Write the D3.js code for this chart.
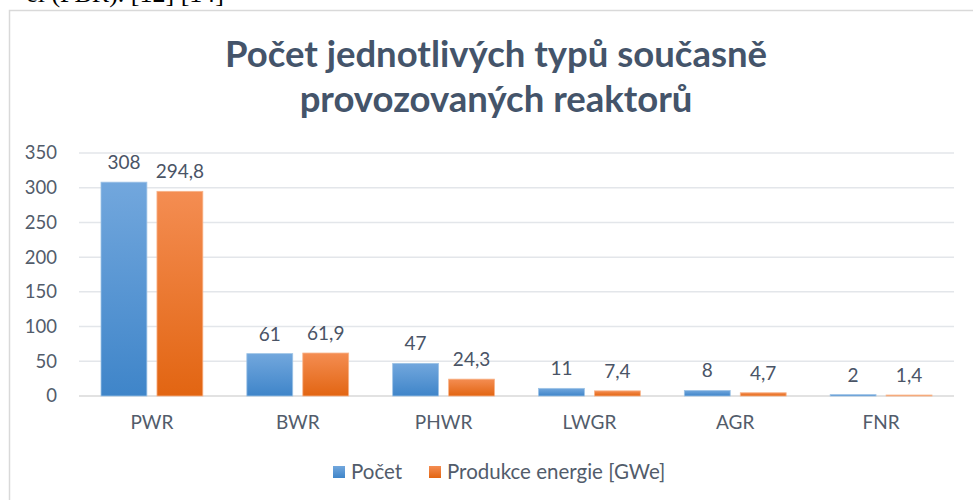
<!DOCTYPE html>
<html>
<head>
<meta charset="utf-8">
<script src="https://cdnjs.cloudflare.com/ajax/libs/d3/7.8.5/d3.min.js"></script>
<style>
  body { margin: 0; background: #fff; }
  svg { display: block; }
</style>
</head>
<body>
<div id="chart"></div>
<script>
'use strict';

// data
const categories = ["PWR", "BWR", "PHWR", "LWGR", "AGR", "FNR"];
const pocet = [308, 61, 47, 11, 8, 2];
const produkce = [294.8, 61.9, 24.3, 7.4, 4.7, 1.4];
const seriesNames = ["Počet", "Produkce energie [GWe]"];
const yTicks = [0, 50, 100, 150, 200, 250, 300, 350];
const titleLines = ["Počet jednotlivých typů současně", "provozovaných reaktorů"];

const width = 973, height = 500;
const font = "Lato, 'Open Sans', sans-serif";
const textColor = "#525c6b";
const titleColor = "#44546a";

const plot = {left: 79, right: 954, top: 153, bottom: 396};

const svg = d3.select("#chart").append("svg")
  .attr("width", width)
  .attr("height", height);

// gradients for the bars
const defs = svg.append("defs");
const grads = [
  {id: "gBlue", top: "#72a7dd", bottom: "#3f85c9", stroke: "#9dc3e6"},
  {id: "gOrange", top: "#f48d52", bottom: "#e26512", stroke: "#f8b48a"}
];
grads.forEach(g => {
  let lg = defs.append("linearGradient").attr("id", g.id)
    .attr("x1", 0).attr("y1", 0).attr("x2", 0).attr("y2", 1);
  lg.append("stop").attr("offset", "0%").attr("stop-color", g.top);
  lg.append("stop").attr("offset", "100%").attr("stop-color", g.bottom);
});

// bit of the document text above the chart (cut off by the page edge)
svg.append("text")
  .attr("x", 224).attr("y", 2)
  .attr("text-anchor", "end")
  .style("font-family", "'Liberation Serif', 'Times New Roman', serif")
  .style("font-size", "26px")
  .attr("fill", "#000")
  .text("el (FBR). [12] [14]");

// chart area border
svg.append("rect")
  .attr("x", 9.5).attr("y", 10.5)
  .attr("width", 1000).attr("height", 600)
  .attr("fill", "#fff")
  .attr("stroke", "#d9d9d9")
  .attr("stroke-width", 1.5);

// title
svg.append("g").selectAll("text")
  .data(titleLines)
  .join("text")
  .attr("x", 496)
  .attr("y", (d, i) => 67 + i * 45)
  .attr("text-anchor", "middle")
  .style("font-family", font)
  .style("font-weight", "bold")
  .style("font-size", "36.5px")
  .attr("fill", titleColor)
  .text(d => d);

// scales
const x = d3.scaleBand().domain(categories).range([plot.left, plot.right]);
const x1 = d3.scaleBand().domain(seriesNames)
  .range([22, x.bandwidth() - 22])
  .paddingInner(0.18);
const y = d3.scaleLinear().domain([0, 350]).range([plot.bottom, plot.top]);

// gridlines
svg.append("g").selectAll("line")
  .data(yTicks)
  .join("line")
  .attr("x1", plot.left).attr("x2", plot.right)
  .attr("y1", d => y(d)).attr("y2", d => y(d))
  .attr("stroke", d => d === 0 ? "#d9d9d9" : "#e3e6ea")
  .attr("stroke-width", 1.5);

// y axis labels
const yAxis = svg.append("g")
  .attr("transform", `translate(${plot.left - 12},0)`)
  .call(d3.axisLeft(y).tickValues(yTicks).tickSize(0).tickPadding(10));
yAxis.select(".domain").remove();
yAxis.selectAll("text")
  .style("font-family", font)
  .style("font-size", "18.5px")
  .attr("fill", textColor);

// x axis labels
const xAxis = svg.append("g")
  .attr("transform", `translate(0,${plot.bottom})`)
  .call(d3.axisBottom(x).tickSize(0).tickPadding(20));
xAxis.select(".domain").remove();
xAxis.selectAll("text")
  .style("font-family", font)
  .style("font-size", "19px")
  .attr("fill", textColor);

// bars
const rows = categories.map((c, i) => ({cat: c, values: [pocet[i], produkce[i]]}));
const fmt = v => String(v).replace(".", ",");

const groups = svg.append("g").selectAll("g")
  .data(rows)
  .join("g")
  .attr("transform", d => `translate(${x(d.cat)},0)`);

groups.selectAll("rect")
  .data(d => d.values.map((v, s) => ({s: s, v: v})))
  .join("rect")
  .attr("x", d => x1(seriesNames[d.s]))
  .attr("y", d => y(d.v))
  .attr("width", x1.bandwidth())
  .attr("height", d => y(0) - y(d.v))
  .attr("fill", d => `url(#${grads[d.s].id})`)
  .attr("stroke", d => grads[d.s].stroke)
  .attr("stroke-width", 0.8);

groups.selectAll("text")
  .data(d => d.values.map((v, s) => ({s: s, v: v})))
  .join("text")
  .attr("x", d => x1(seriesNames[d.s]) + x1.bandwidth() / 2)
  .attr("y", d => y(d.v) - 13)
  .attr("text-anchor", "middle")
  .style("font-family", font)
  .style("font-size", "19px")
  .attr("fill", "#4a5466")
  .text(d => fmt(d.v));

// legend
const legend = svg.append("g").attr("transform", "translate(333,472)");
const legendX = [0, 96];
seriesNames.forEach((name, i) => {
  let item = legend.append("g").attr("transform", `translate(${legendX[i]},0)`);
  item.append("rect")
    .attr("x", 0).attr("y", -6)
    .attr("width", 12).attr("height", 12)
    .attr("fill", `url(#${grads[i].id})`);
  item.append("text")
    .attr("x", 18).attr("y", 0)
    .attr("dy", "0.35em")
    .style("font-family", font)
    .style("font-size", "20.5px")
    .attr("fill", textColor)
    .text(name);
});
</script>
</body>
</html>
